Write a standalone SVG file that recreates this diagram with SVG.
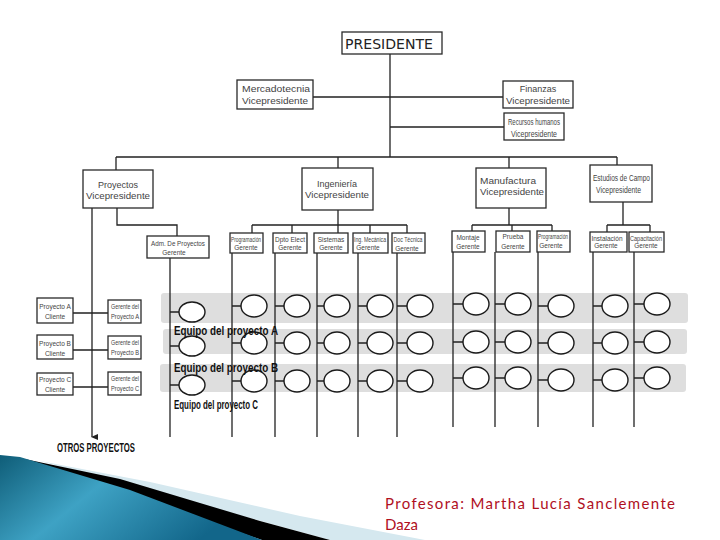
<svg xmlns="http://www.w3.org/2000/svg" width="720" height="540" viewBox="0 0 720 540">
<style>
.box{fill:#fff;stroke:#2a2a2a;stroke-width:1.3}
.ln{stroke:#222;stroke-width:1.3;fill:none}
.t{font-family:"Liberation Sans","DejaVu Sans",sans-serif;fill:#444;font-size:9px}
.s{font-family:"Liberation Sans","DejaVu Sans",sans-serif;fill:#444;font-size:6.5px;text-anchor:middle}
.c{text-anchor:middle}
.eq{font-family:"Liberation Sans",sans-serif;font-weight:bold;font-size:12px;fill:#111}
.band{fill:#dedede}
.circ{fill:#fff;stroke:#1a1a1a;stroke-width:1.4}
</style>
<defs>
<marker id="arr" markerWidth="8" markerHeight="8" refX="4" refY="6" orient="auto" markerUnits="userSpaceOnUse">
<path d="M1,0 L4,7 L7,0 Z" fill="#222"/>
</marker>
<linearGradient id="teal" x1="0" y1="0" x2="1" y2="0.4">
<stop offset="0" stop-color="#0f5d78"/>
<stop offset="0.45" stop-color="#3ea2c4"/>
<stop offset="1" stop-color="#12668a"/>
</linearGradient>
</defs>
<rect width="720" height="540" fill="#fff"/>

<g id="bands">
<rect class="band" x="161" y="293" width="527" height="30" rx="3"/>
<rect class="band" x="163" y="329" width="524" height="25" rx="3"/>
<rect class="band" x="160" y="364" width="526" height="28" rx="3"/>
</g>

<g id="connectors">
<path class="ln" d="M390,54 V157 M313,97 H503 M390,127 H504 M116,157 H617 M116,157 V170 M338,157 V168 M509,157 V168 M617,157 V165"/>
<path class="ln" d="M117,208 V225 H177 V236 M92,208 V437" marker-end="url(#arr)"/>
<path class="ln" d="M170,258 V437"/>
<path class="ln" d="M338,210 V225 M252,225 H407 M252,225 V233 M292,225 V233 M338,225 V233 M370,225 V233 M407,225 V233"/>
<path class="ln" d="M509,208 V225 M472,225 H552 M472,225 V231 M512,225 V231 M552,225 V231"/>
<path class="ln" d="M623,202 V225 M607,225 H650 M607,225 V232 M650,225 V232"/>
<path class="ln" d="M232,253 V437 M275,253 V437 M317,253 V437 M358,253 V437 M397,253 V437"/>
<path class="ln" d="M453,252 V427 M495,252 V427 M538,252 V427 M593,252 V427 M634,252 V427"/>
<path class="ln" d="M73,313 H108 M73,350 H108 M73,387 H108"/>
<path class="ln" d="M170,312 H179 M170,346 H179 M170,385 H179
M232,306 H241 M232,343 H241 M232,381 H241
M275,306 H284 M275,343 H284 M275,381 H284
M317,306 H324 M317,343 H324 M317,381 H324
M358,306 H367 M358,343 H367 M358,381 H367
M397,306 H407 M397,343 H407 M397,381 H407
M453,304 H463 M453,342 H463 M453,378 H463
M495,304 H505 M495,342 H505 M495,378 H505
M538,306 H548 M538,343 H548 M538,380 H548
M593,306 H602 M593,343 H602 M593,380 H602
M634,304 H644 M634,342 H644 M634,378 H644"/>
</g>

<g id="teams">
<ellipse class="circ" cx="192" cy="312" rx="13" ry="10"/>
<ellipse class="circ" cx="254" cy="306" rx="13" ry="11"/>
<ellipse class="circ" cx="297" cy="306" rx="13" ry="11"/>
<ellipse class="circ" cx="337" cy="306" rx="13" ry="11"/>
<ellipse class="circ" cx="380" cy="306" rx="13" ry="11"/>
<ellipse class="circ" cx="420" cy="306" rx="13" ry="11"/>
<ellipse class="circ" cx="476" cy="304" rx="13" ry="11"/>
<ellipse class="circ" cx="518" cy="304" rx="13" ry="11"/>
<ellipse class="circ" cx="561" cy="306" rx="13" ry="11"/>
<ellipse class="circ" cx="615" cy="306" rx="13" ry="11"/>
<ellipse class="circ" cx="657" cy="304" rx="13" ry="11"/>

<ellipse class="circ" cx="192" cy="346" rx="13" ry="10"/>
<ellipse class="circ" cx="254" cy="343" rx="13" ry="11"/>
<ellipse class="circ" cx="297" cy="343" rx="13" ry="11"/>
<ellipse class="circ" cx="337" cy="343" rx="13" ry="11"/>
<ellipse class="circ" cx="380" cy="343" rx="13" ry="11"/>
<ellipse class="circ" cx="420" cy="343" rx="13" ry="11"/>
<ellipse class="circ" cx="476" cy="342" rx="13" ry="11"/>
<ellipse class="circ" cx="518" cy="342" rx="13" ry="11"/>
<ellipse class="circ" cx="561" cy="343" rx="13" ry="11"/>
<ellipse class="circ" cx="615" cy="343" rx="13" ry="11"/>
<ellipse class="circ" cx="657" cy="342" rx="13" ry="11"/>

<ellipse class="circ" cx="192" cy="385" rx="13" ry="10"/>
<ellipse class="circ" cx="254" cy="381" rx="13" ry="11"/>
<ellipse class="circ" cx="297" cy="381" rx="13" ry="11"/>
<ellipse class="circ" cx="337" cy="381" rx="13" ry="11"/>
<ellipse class="circ" cx="380" cy="381" rx="13" ry="11"/>
<ellipse class="circ" cx="420" cy="381" rx="13" ry="11"/>
<ellipse class="circ" cx="476" cy="378" rx="13" ry="11"/>
<ellipse class="circ" cx="518" cy="378" rx="13" ry="11"/>
<ellipse class="circ" cx="561" cy="380" rx="13" ry="11"/>
<ellipse class="circ" cx="615" cy="380" rx="13" ry="11"/>
<ellipse class="circ" cx="657" cy="378" rx="13" ry="11"/>
</g>

<g id="team-labels">
<text class="eq" x="174" y="335" textLength="104" lengthAdjust="spacingAndGlyphs">Equipo del proyecto A</text>
<text class="eq" x="174" y="372" textLength="104" lengthAdjust="spacingAndGlyphs">Equipo del proyecto B</text>
<text class="eq" x="174" y="409" textLength="84" lengthAdjust="spacingAndGlyphs">Equipo del proyecto C</text>
<text class="eq" x="57" y="452" textLength="78" lengthAdjust="spacingAndGlyphs">OTROS PROYECTOS</text>
</g>

<g id="presidente">
<rect class="box" x="342" y="32" width="100" height="22"/>
<text x="345" y="49" font-family="DejaVu Sans, sans-serif" font-size="14" fill="#222" textLength="88" lengthAdjust="spacingAndGlyphs">PRESIDENTE</text>
</g>
<g id="mercadotecnia">
<rect class="box" x="237" y="80" width="76" height="29"/>
<text class="t" x="242" y="92" textLength="68" lengthAdjust="spacingAndGlyphs">Mercadotecnia</text>
<text class="t" x="242" y="104" textLength="66" lengthAdjust="spacingAndGlyphs">Vicepresidente</text>
</g>
<g id="finanzas">
<rect class="box" x="503" y="81" width="70" height="27"/>
<text class="t c" x="538" y="92">Finanzas</text>
<text class="t c" x="538" y="104" textLength="64" lengthAdjust="spacingAndGlyphs">Vicepresidente</text>
</g>
<g id="recursos">
<rect class="box" x="504" y="113" width="60" height="27"/>
<text class="t c" x="534" y="125" font-size="7" textLength="52" lengthAdjust="spacingAndGlyphs">Recursos humanos</text>
<text class="t c" x="534" y="137" font-size="7" textLength="46" lengthAdjust="spacingAndGlyphs">Vicepresidente</text>
</g>
<g id="proyectos">
<rect class="box" x="83" y="170" width="70" height="38"/>
<text class="t c" x="118" y="188">Proyectos</text>
<text class="t c" x="118" y="199" textLength="64" lengthAdjust="spacingAndGlyphs">Vicepresidente</text>
</g>
<g id="ingenieria">
<rect class="box" x="302" y="168" width="71" height="42"/>
<text class="t c" x="337" y="187">Ingeniería</text>
<text class="t c" x="337" y="198" textLength="64" lengthAdjust="spacingAndGlyphs">Vicepresidente</text>
</g>
<g id="manufactura">
<rect class="box" x="476" y="168" width="70" height="40"/>
<text class="t" x="480" y="184" font-size="10" textLength="56" lengthAdjust="spacingAndGlyphs">Manufactura</text>
<text class="t" x="480" y="195" textLength="64" lengthAdjust="spacingAndGlyphs">Vicepresidente</text>
</g>
<g id="estudios">
<rect class="box" x="590" y="165" width="62" height="37"/>
<text class="t" x="593" y="181" font-size="8" textLength="57" lengthAdjust="spacingAndGlyphs">Estudios de Campo</text>
<text class="t" x="596" y="193" font-size="8" textLength="45" lengthAdjust="spacingAndGlyphs">Vicepresidente</text>
</g>
<g id="adm">
<rect class="box" x="147" y="236" width="62" height="22"/>
<text class="s" x="178" y="246" textLength="54" lengthAdjust="spacingAndGlyphs">Adm. De Proyectos</text>
<text class="s" x="174" y="255">Gerente</text>
</g>
<g id="programacion1">
<rect class="box" x="230" y="233" width="33" height="20"/>
<text class="s" x="246" y="242" font-size="5.5" textLength="30" lengthAdjust="spacingAndGlyphs">Programación</text>
<text class="s" x="246" y="250">Gerente</text>
</g>
<g id="dpto-elect">
<rect class="box" x="273" y="233" width="34" height="20"/>
<text class="s" x="290" y="242">Dpto Elect</text>
<text class="s" x="290" y="250">Gerente</text>
</g>
<g id="sistemas">
<rect class="box" x="314" y="233" width="34" height="20"/>
<text class="s" x="331" y="242">Sistemas</text>
<text class="s" x="331" y="250">Gerente</text>
</g>
<g id="ing-mecanica">
<rect class="box" x="353" y="233" width="35" height="20"/>
<text class="s" x="370" y="242" font-size="5.5" textLength="32" lengthAdjust="spacingAndGlyphs">Ing. Mecánica</text>
<text class="s" x="368" y="250">Gerente</text>
</g>
<g id="doc-tecnica">
<rect class="box" x="392" y="233" width="33" height="20"/>
<text class="s" x="408" y="242" font-size="5.5" textLength="29" lengthAdjust="spacingAndGlyphs">Doc Técnica</text>
<text class="s" x="407" y="251">Gerente</text>
</g>
<g id="montaje">
<rect class="box" x="452" y="231" width="33" height="21"/>
<text class="s" x="468" y="240">Montaje</text>
<text class="s" x="468" y="249">Gerente</text>
</g>
<g id="prueba">
<rect class="box" x="496" y="231" width="34" height="21"/>
<text class="s" x="513" y="239" font-size="8">Prueba</text>
<text class="s" x="513" y="249">Gerente</text>
</g>
<g id="programacion2">
<rect class="box" x="537" y="231" width="33" height="21"/>
<text class="s" x="553" y="239" font-size="5.5" textLength="30" lengthAdjust="spacingAndGlyphs">Programación</text>
<text class="s" x="551" y="248">Gerente</text>
</g>
<g id="instalacion">
<rect class="box" x="590" y="232" width="37" height="20"/>
<text class="s" x="607" y="241" font-size="5.5">Instalación</text>
<text class="s" x="606" y="248" font-size="6">Gerente</text>
</g>
<g id="capacitacion">
<rect class="box" x="629" y="232" width="35" height="20"/>
<text class="s" x="646" y="241" font-size="5" textLength="32" lengthAdjust="spacingAndGlyphs">Capacitación</text>
<text class="s" x="646" y="248" font-size="5.5">Gerente</text>
</g>
<g id="proyecto-a-cliente">
<rect class="box" x="37" y="298" width="36" height="25"/>
<text class="s" x="55" y="309">Proyecto A</text>
<text class="s" x="55" y="319">Cliente</text>
</g>
<g id="gerente-a">
<rect class="box" x="108" y="300" width="33" height="23"/>
<text class="s" x="125" y="309" font-size="6" textLength="28" lengthAdjust="spacingAndGlyphs">Gerente del</text>
<text class="s" x="125" y="319" font-size="6" textLength="28" lengthAdjust="spacingAndGlyphs">Proyecto A</text>
</g>
<g id="proyecto-b-cliente">
<rect class="box" x="37" y="335" width="36" height="24"/>
<text class="s" x="55" y="346">Proyecto B</text>
<text class="s" x="55" y="356">Cliente</text>
</g>
<g id="gerente-b">
<rect class="box" x="108" y="336" width="33" height="23"/>
<text class="s" x="125" y="345" font-size="6" textLength="28" lengthAdjust="spacingAndGlyphs">Gerente del</text>
<text class="s" x="125" y="355" font-size="6" textLength="28" lengthAdjust="spacingAndGlyphs">Proyecto B</text>
</g>
<g id="proyecto-c-cliente">
<rect class="box" x="37" y="373" width="36" height="22"/>
<text class="s" x="55" y="382">Proyecto C</text>
<text class="s" x="55" y="392">Cliente</text>
</g>
<g id="gerente-c">
<rect class="box" x="108" y="372" width="33" height="23"/>
<text class="s" x="125" y="381" font-size="6" textLength="28" lengthAdjust="spacingAndGlyphs">Gerente del</text>
<text class="s" x="125" y="391" font-size="6" textLength="28" lengthAdjust="spacingAndGlyphs">Proyecto C</text>
</g>

<g id="decor">
<polygon points="40,461 150,482 300,516 425,540 330,540" fill="#d5e8ef"/>
<polygon points="15,457 120,479 260,521 330,540 262,540" fill="#000"/>
<polygon points="0,455 20,457 130,490 262,540 0,540" fill="url(#teal)"/>
</g>
<g id="footer">
<text x="385" y="509" font-family="Lato, 'Open Sans', sans-serif" font-size="15" fill="#b0101e" textLength="290" lengthAdjust="spacing">Profesora:  Martha  Lucía  Sanclemente</text>
<text x="385" y="530" font-family="Lato, 'Open Sans', sans-serif" font-size="15" fill="#b0101e">Daza</text>
</g>
</svg>
